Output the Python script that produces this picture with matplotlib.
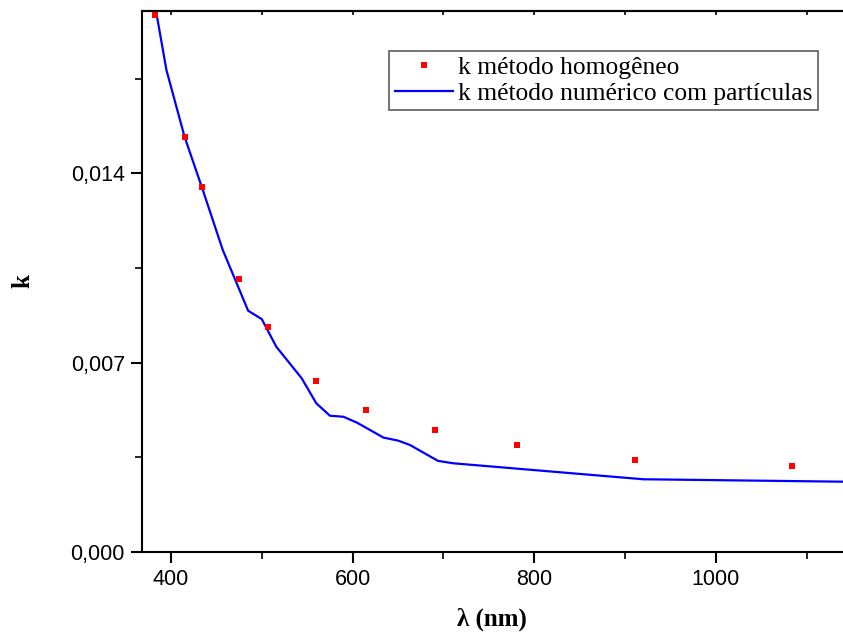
import matplotlib
matplotlib.use("Agg")
import matplotlib.pyplot as plt
from matplotlib.ticker import MultipleLocator, FuncFormatter

# k from the homogeneous method (squares)
lam_hom = [382, 415, 434, 475, 507, 560, 615, 691, 781, 911, 1084]
k_hom = [0.01986, 0.01535, 0.01350, 0.01010, 0.00832, 0.00632, 0.00525, 0.00451, 0.00396, 0.00340, 0.00318]

# k from the numerical method with particles (line)
lam_num = [382, 395, 415, 435, 457, 485, 500, 516, 544, 560, 575, 590, 605, 634, 650, 663, 694, 711, 920, 1140]
k_num = [0.02030, 0.01782, 0.01535, 0.01339, 0.01117, 0.00892, 0.00861, 0.00759, 0.00642, 0.00550,
         0.00504, 0.00500, 0.00478, 0.00423, 0.00412, 0.00396, 0.00337, 0.00328, 0.00269, 0.00260]

fig = plt.figure(figsize=(8.43, 6.37), dpi=100)
ax = fig.add_axes([0.168, 0.1334, 0.832, 0.8493])

ax.plot(lam_hom, k_hom, 's', color='#ff0000', markersize=5, markeredgewidth=0,
        label='k método homogêneo', zorder=3)
ax.plot(lam_num, k_num, '-', color='#0000ff', linewidth=1.6,
        label='k método numérico com partículas', zorder=2)

ax.set_xlim(367.7, 1140)
ax.set_ylim(0, 0.0200)

ax.xaxis.set_major_locator(MultipleLocator(200))
ax.xaxis.set_minor_locator(MultipleLocator(100))
ax.yaxis.set_major_locator(MultipleLocator(0.007))
ax.yaxis.set_minor_locator(MultipleLocator(0.0035))
ax.yaxis.set_major_formatter(FuncFormatter(lambda v, p: f"{v:.3f}".replace('.', ',')))

for side in ['left', 'bottom', 'top']:
    ax.spines[side].set_linewidth(1.5)
ax.spines['right'].set_visible(False)

ax.tick_params(which='major', direction='out', length=8, width=1.5,
               labelsize=15.5, pad=4)
ax.tick_params(which='minor', direction='out', length=5, width=1.2)
ax.tick_params(which='both', top=False, right=False)
for lbl in ax.get_xticklabels() + ax.get_yticklabels():
    lbl.set_family('Liberation Sans')

# small inward ticks along the top edge
sec = ax.secondary_xaxis('top')
sec.xaxis.set_major_locator(MultipleLocator(200))
sec.xaxis.set_minor_locator(MultipleLocator(100))
sec.tick_params(which='both', direction='in', length=3, width=1.2, labeltop=False)
sec.spines['top'].set_linewidth(1.5)

ax.set_xlabel('λ (nm)', family='Liberation Serif', fontweight='bold', fontsize=18, labelpad=13)
ax.set_ylabel('k', family='Liberation Serif', fontweight='bold', fontsize=18, labelpad=26)

leg = ax.legend(loc='upper left', bbox_to_anchor=(0.3534, 0.9255), frameon=True, fancybox=False,
                prop={'family': 'Liberation Serif', 'size': 18.4}, handlelength=2.3,
                handletextpad=0.2, borderpad=0.2, labelspacing=0.12, borderaxespad=0,
                markerscale=1.0)
leg.get_frame().set_edgecolor('#333333')
leg.get_frame().set_linewidth(1.2)

fig.savefig('out.png', dpi=100)
